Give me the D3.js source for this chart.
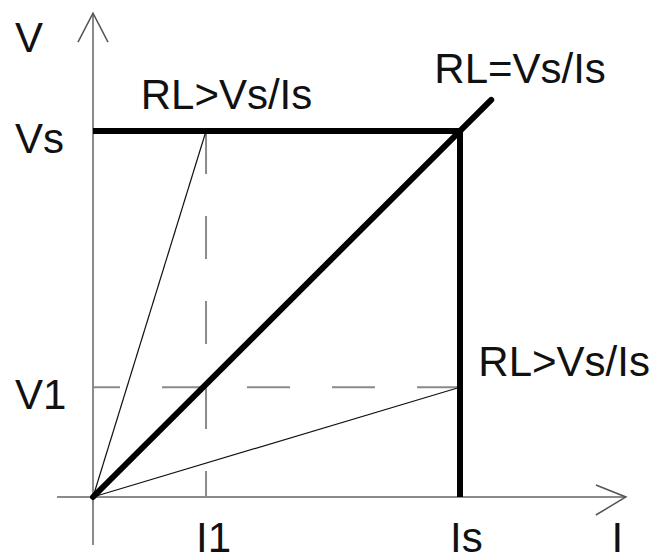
<!DOCTYPE html>
<html lang="en">
    <head>
        <meta charset="utf-8">
        <title>Source characteristic</title>
        <script src="https://d3js.org/d3.v7.min.js"></script>
        <style>
            body {
                margin: 0;
                background-color: #ffffff;
            }
            svg text {
                font-family: "Liberation Sans", Arial, sans-serif;
                font-size: 42px;
                fill: #111;
            }
        </style>
    </head>
    <body>
        <svg id="chart"></svg>

        <script>
            //data (normalised: Vs = 1, Is = 1)
            const currents = { I1: 0.308, Is: 1 };
            const voltages = { V1: 0.30, Vs: 1 };
            const limitLine = [[0, 0], [1.085, 1.085]];      // RL = Vs/Is, runs past the corner
            const sourceLimit = [[0, 1], [1, 1], [1, 0]];     // Vs plateau and Is wall
            const loadLines = [
                [[0, 0], [0.308, 1]],
                [[0, 0], [1, 0.30]]
            ];
            const vTicks = [["V", 1.275], ["Vs", 1], ["V1", 0.30]];
            const iTicks = [["I1", 0.308], ["Is", 1], ["I", 1.44]];
            const notes = [
                ["RL>Vs/Is", 0.13, 1.06],
                ["RL=Vs/Is", 0.93, 1.13],
                ["RL>Vs/Is", 1.05, 0.33]
            ];

            //chart dimensions
            const width = 657;
            const height = 560;

            const svg = d3.select("#chart")
                .attr("width", width)
                .attr("height", height);

            //x and y scale
            const xScale = d3.scaleLinear().domain([0, 1]).range([93, 460]);
            const yScale = d3.scaleLinear().domain([0, 1]).range([497, 131]);

            const line = d3.line().x(d => xScale(d[0])).y(d => yScale(d[1]));

            //axes with open arrow heads
            const axisColor = "#8a8a8a";
            const xEnd = xScale(1.452), yEnd = yScale(1.322);

            svg.append("path")
                .attr("d", line([[0, -0.131], [0, 1.322]]))
                .attr("stroke", axisColor).attr("stroke-width", 2).attr("fill", "none");
            svg.append("path")
                .attr("d", `M${xScale(0) - 15},${yEnd + 29}L${xScale(0)},${yEnd}L${xScale(0) + 15},${yEnd + 29}`)
                .attr("stroke", "#555").attr("stroke-width", 1.5).attr("fill", "none");

            svg.append("path")
                .attr("d", line([[-0.098, 0], [1.452, 0]]))
                .attr("stroke", axisColor).attr("stroke-width", 2).attr("fill", "none");
            svg.append("path")
                .attr("d", `M${xEnd - 30},${yScale(0) - 12}L${xEnd},${yScale(0)}L${xEnd - 30},${yScale(0) + 18}`)
                .attr("stroke", "#555").attr("stroke-width", 1.5).attr("fill", "none");

            //dashed guides
            svg.append("path")
                .attr("d", line([[currents.I1, 1], [currents.I1, 0]]))
                .attr("stroke", axisColor).attr("stroke-width", 2)
                .attr("stroke-dasharray", "43,42").attr("fill", "none");
            svg.append("path")
                .attr("d", line([[1, voltages.V1], [0, voltages.V1]]))
                .attr("stroke", axisColor).attr("stroke-width", 2)
                .attr("stroke-dasharray", "43,42").attr("fill", "none");

            //load lines
            svg.selectAll(".load")
                .data(loadLines)
                .enter()
                .append("path")
                .attr("class", "load")
                .attr("d", line)
                .attr("stroke", "#111").attr("stroke-width", 1.2).attr("fill", "none");

            //source limits
            svg.append("path")
                .attr("d", line(sourceLimit))
                .attr("stroke", "#000").attr("stroke-width", 6)
                .attr("stroke-linejoin", "miter").attr("fill", "none");

            svg.append("path")
                .attr("d", line(limitLine))
                .attr("stroke", "#000").attr("stroke-width", 6)
                .attr("stroke-linecap", "round").attr("fill", "none");

            //labels
            svg.selectAll(".vlabel")
                .data(vTicks)
                .enter()
                .append("text")
                .attr("class", "vlabel")
                .attr("x", 15)
                .attr("y", d => yScale(d[1]) + 22)
                .text(d => d[0]);

            svg.selectAll(".ilabel")
                .data(iTicks)
                .enter()
                .append("text")
                .attr("class", "ilabel")
                .attr("x", d => xScale(d[1]) - 10)
                .attr("y", 552)
                .text(d => d[0]);

            svg.selectAll(".note")
                .data(notes)
                .enter()
                .append("text")
                .attr("class", "note")
                .attr("x", d => xScale(d[1]))
                .attr("y", d => yScale(d[2]))
                .text(d => d[0]);
        </script>
    </body>
</html>
